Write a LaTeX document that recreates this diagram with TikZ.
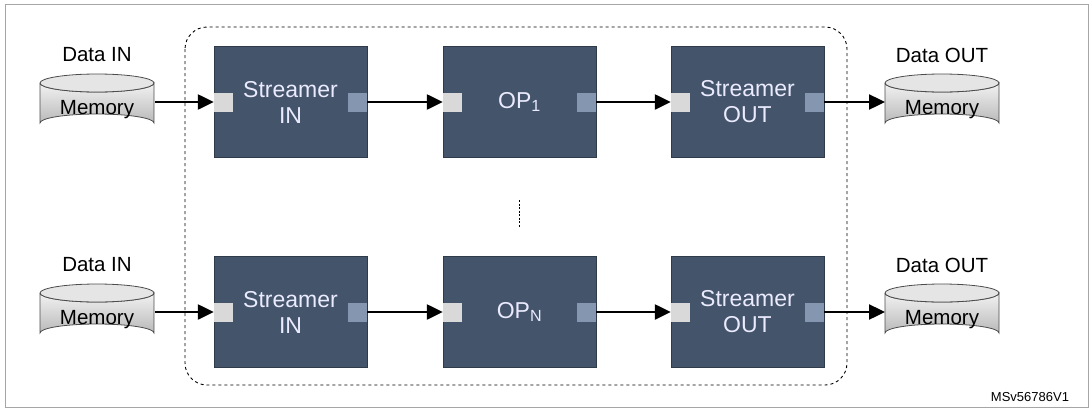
\documentclass[tikz,border=0pt]{standalone}
\usepackage{fontspec}
\setmainfont{Liberation Sans}
\usetikzlibrary{arrows.meta}
\definecolor{boxc}{HTML}{44546A}
\definecolor{portl}{HTML}{D9D9D9}
\definecolor{portr}{HTML}{8496B0}
\begin{document}
\begin{tikzpicture}[x=1pt,y=-1pt,
  blk/.style={draw=boxc!70!black,fill=boxc,minimum width=153pt,minimum height=111pt,inner sep=0pt,text=white!92!blue,font=\fontsize{23}{26}\selectfont,align=center},
  arr/.style={line width=2.4pt,-{Triangle[length=16pt,width=15pt]}},
  lbl/.style={font=\fontsize{20.5}{24}\selectfont}]
\useasboundingbox (0,0) rectangle (1090,410);
\draw[gray!70,line width=1pt] (5,4) rectangle (1088,407);
\draw[dashed,line width=0.9pt,rounded corners=22pt] (185,27) rectangle (847,385);
% cylinders
\newcommand{\mycyl}[3]{%
  \shade[top color=gray!10,bottom color=gray!55,draw=gray!60!black,line width=0.8pt]
    (#1-57,#2-9) -- (#1-57,#2+31) arc[start angle=180,end angle=360,x radius=57,y radius=9] -- (#1+57,#2-9) arc[start angle=0,end angle=180,x radius=57,y radius=9];
  \draw[fill=gray!20,draw=gray!60!black,line width=0.8pt] (#1,#2-9) ellipse[x radius=57,y radius=9];
  \node[lbl] (#3) at (#1,#2+18) {Memory};}
\mycyl{97}{92}{m1}
\mycyl{97}{302}{m2}
\mycyl{942}{92}{m3}
\mycyl{942}{302}{m4}
\node[lbl] at (97,55) {Data IN};
\node[lbl] at (97,265) {Data IN};
\node[lbl] at (942,55) {Data OUT};
\node[lbl] at (942,265) {Data OUT};
% blocks
\node[blk] (s1) at (290.5,102) {Streamer\\IN};
\node[blk] (o1) at (519.5,102) {OP\textsubscript{1}};
\node[blk] (t1) at (747.5,102) {Streamer\\OUT};
\node[blk] (s2) at (290.5,312) {Streamer\\IN};
\node[blk] (o2) at (519.5,312) {OP\textsubscript{N}};
\node[blk] (t2) at (747.5,312) {Streamer\\OUT};
\foreach \b in {s1,o1,t1,s2,o2,t2}{
  \fill[portl] (\b.west)+(0,-9.5) rectangle +(19,9.5);
  \fill[portr] (\b.east)+(0,-9.5) rectangle +(-19,9.5);
}
\coordinate (c1) at (155,102); \coordinate (c2) at (155,312);
\coordinate (d1) at (885,102); \coordinate (d2) at (885,312);
\draw[arr] (c1) -- (s1.west); \draw[arr] (c2) -- (s2.west);
\draw[arr] (s1.east) -- (o1.west); \draw[arr] (s2.east) -- (o2.west);
\draw[arr] (o1.east) -- (t1.west); \draw[arr] (o2.east) -- (t2.west);
\draw[arr] (t1.east) -- (d1); \draw[arr] (t2.east) -- (d2);
\draw[dash pattern=on 2pt off 1.5pt,line width=1pt] (519,200) -- (519,228);
\node[font=\fontsize{13}{15}\selectfont] at (1030,397) {MSv56786V1};
\end{tikzpicture}
\end{document}
